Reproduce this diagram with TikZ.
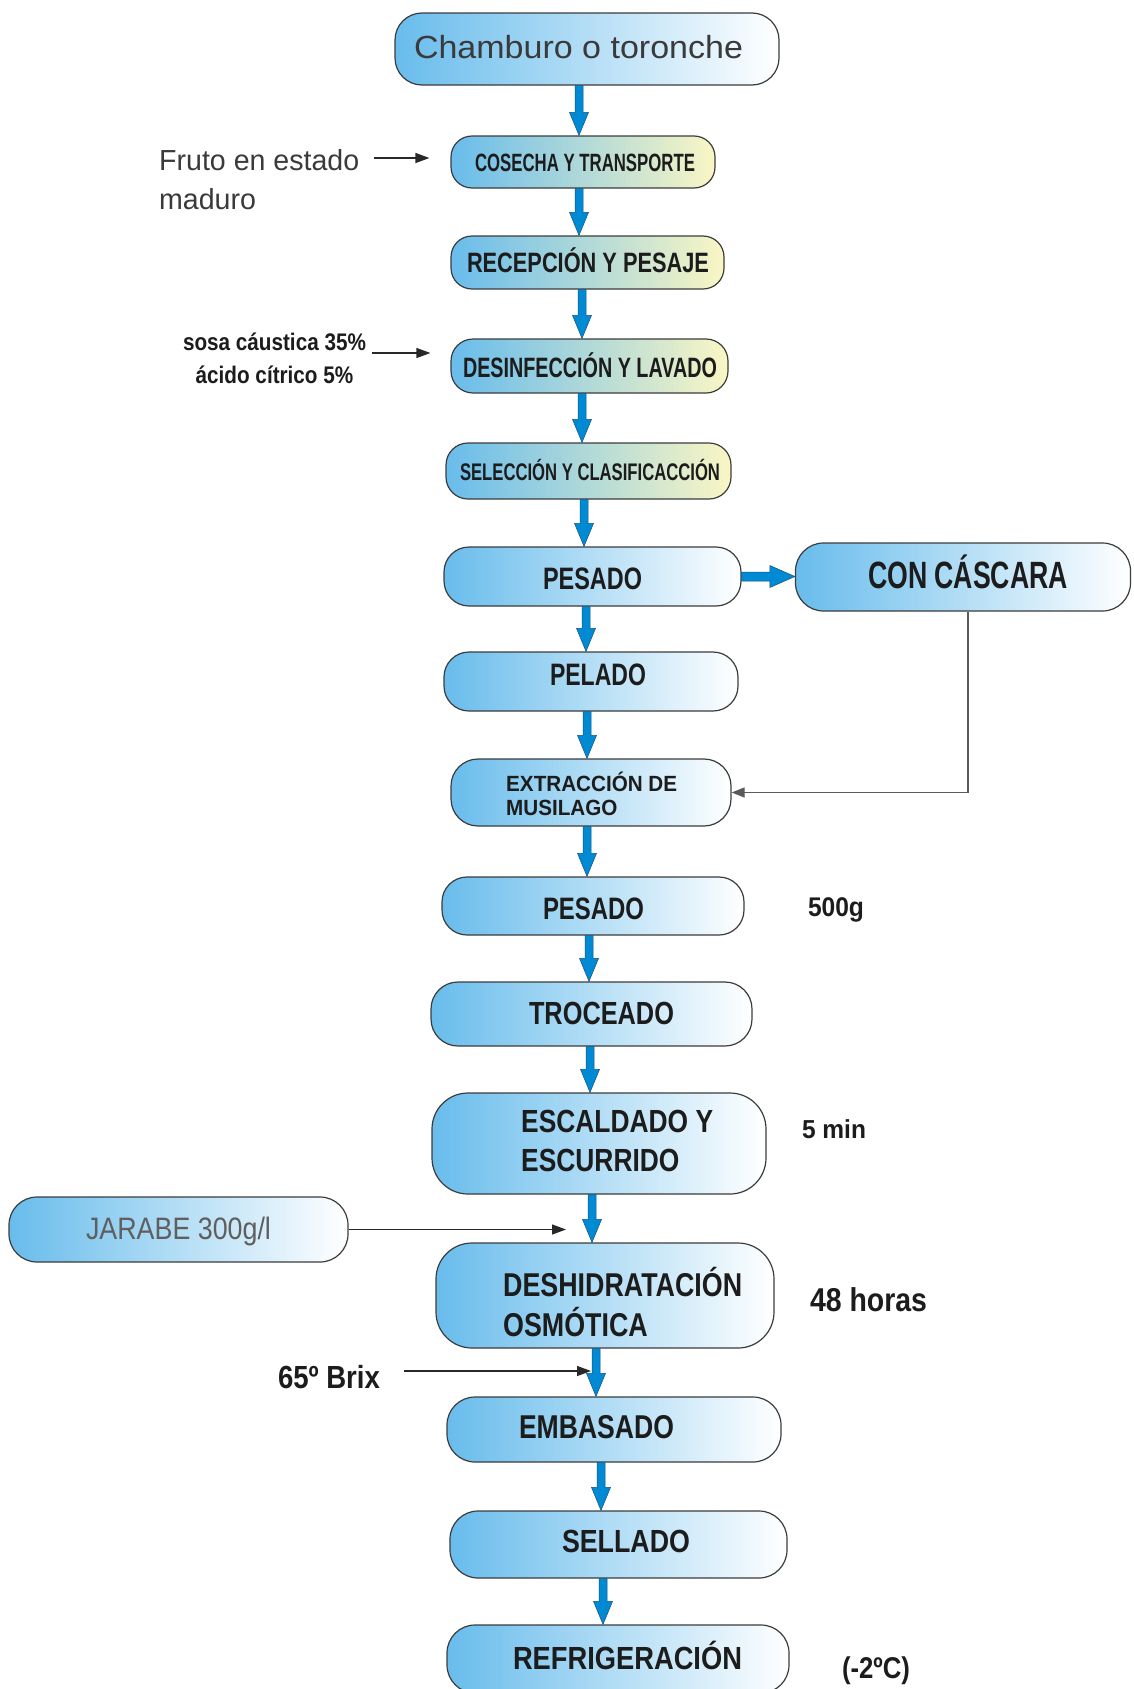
\documentclass[tikz,border=0pt]{standalone}
\usepackage{fontspec}
\setmainfont{Liberation Sans}
\usepackage{graphicx}
\usetikzlibrary{arrows.meta,calc}

\definecolor{boxblue}{RGB}{104,188,236}
\definecolor{paleyellow}{RGB}{250,246,196}
\definecolor{boxedge}{RGB}{60,60,60}
\definecolor{flowblue}{RGB}{0,138,212}
\definecolor{flowedge}{RGB}{25,80,125}
\definecolor{txtdark}{RGB}{28,28,28}
\definecolor{txtgray}{RGB}{58,58,58}
\definecolor{syrupgray}{RGB}{95,95,95}
\definecolor{arrowdark}{RGB}{40,40,40}
\definecolor{linkgray}{RGB}{90,90,90}

% set a label at a given font, then stretch/condense it to a given width
\newsavebox\lblbox
\newcommand\fitlbl[3]{\sbox\lblbox{#2#3}%
  \pgfmathsetmacro\lblscale{#1/\wd\lblbox}%
  \scalebox{\lblscale}[1]{\usebox\lblbox}}
\newcommand\twol[3]{\begin{tabular}[t]{@{}#1@{}}#2\\#3\end{tabular}}

\begin{document}
\begin{tikzpicture}[x=1pt,y=-1pt,
  proc/.style={draw=boxedge, line width=1.2pt, left color=boxblue, right color=white, inner sep=0pt},
  procy/.style={proc, right color=paleyellow},
  lbl/.style={inner sep=0pt, anchor=base, text=txtdark},
  vflow/.style={fill=flowblue, draw=flowedge, line width=0.5pt,
    to path={let \p1=(\tikztostart), \p2=(\tikztotarget) in
      (\x1-4pt,\y1) -- (\x1-4pt,\y2+23pt) -- (\x1-9.5pt,\y2+23pt) -- (\x1,\y2)
      -- (\x1+9.5pt,\y2+23pt) -- (\x1+4pt,\y2+23pt) -- (\x1+4pt,\y1) -- cycle}},
  hflow/.style={fill=flowblue, draw=flowedge, line width=0.5pt,
    to path={let \p1=(\tikztostart), \p2=(\tikztotarget) in
      (\x1,\y1-4.5pt) -- (\x2-25pt,\y1-4.5pt) -- (\x2-25pt,\y1-11pt) -- (\x2,\y1)
      -- (\x2-25pt,\y1+11pt) -- (\x2-25pt,\y1+4.5pt) -- (\x1,\y1+4.5pt) -- cycle}},
  thinarrow/.style={draw=arrowdark, line width=1.3pt, -{Triangle[length=14pt,width=10pt]}},
  linkline/.style={draw=linkgray, line width=1.1pt, -{Triangle[length=13pt,width=10pt]}}
]
\fill[white] (0,0) rectangle (1133,1689);
\useasboundingbox (0,0) rectangle (1133,1689);

% process boxes
\node[proc,  minimum width=384pt, minimum height=72pt,  rounded corners=27pt] (cham) at (587,49) {};
\node[procy, minimum width=264pt, minimum height=52pt,  rounded corners=21pt] (cos)  at (583,162) {};
\node[procy, minimum width=273pt, minimum height=53pt,  rounded corners=21pt] (rec)  at (587.5,262.5) {};
\node[procy, minimum width=277pt, minimum height=54pt,  rounded corners=22pt] (des)  at (589.5,366) {};
\node[procy, minimum width=285pt, minimum height=56pt,  rounded corners=22pt] (sel)  at (588.5,471) {};
\node[proc,  minimum width=297pt, minimum height=59pt,  rounded corners=25pt] (pes1) at (592.5,576.5) {};
\node[proc,  minimum width=335pt, minimum height=68pt,  rounded corners=28pt] (cas)  at (963,577) {};
\node[proc,  minimum width=294pt, minimum height=59pt,  rounded corners=25pt] (pel)  at (591,681.5) {};
\node[proc,  minimum width=280pt, minimum height=67pt,  rounded corners=27pt] (ext)  at (591,792.5) {};
\node[proc,  minimum width=302pt, minimum height=58pt,  rounded corners=25pt] (pes2) at (593,906) {};
\node[proc,  minimum width=321pt, minimum height=64pt,  rounded corners=27pt] (tro)  at (591.5,1014) {};
\node[proc,  minimum width=334pt, minimum height=101pt, rounded corners=36pt] (esc)  at (599,1143.5) {};
\node[proc,  minimum width=339pt, minimum height=65pt,  rounded corners=28pt] (jar)  at (178.5,1229.5) {};
\node[proc,  minimum width=338pt, minimum height=105pt, rounded corners=36pt] (desh) at (605,1295.5) {};
\node[proc,  minimum width=334pt, minimum height=65pt,  rounded corners=28pt] (emb)  at (614,1429.5) {};
\node[proc,  minimum width=337pt, minimum height=67pt,  rounded corners=28pt] (sell) at (618.5,1544.5) {};
\node[proc,  minimum width=342pt, minimum height=68pt,  rounded corners=28pt] (ref)  at (618,1659) {};

% box texts
\node[lbl, text=txtgray] (cham-t) at (578.5,58) {\fitlbl{329}{\fontsize{32}{38}\selectfont}{Chamburo o toronche}};
\node[lbl] (cos-t)  at (585,171)   {\fitlbl{220}{\fontsize{25}{30}\selectfont\bfseries}{COSECHA Y TRANSPORTE}};
\node[lbl] (rec-t)  at (588,272)   {\fitlbl{242}{\fontsize{28}{32}\selectfont\bfseries}{RECEPCIÓN Y PESAJE}};
\node[lbl] (des-t)  at (590,377)   {\fitlbl{254}{\fontsize{28}{32}\selectfont\bfseries}{DESINFECCIÓN Y LAVADO}};
\node[lbl] (sel-t)  at (590,480.5) {\fitlbl{260}{\fontsize{24}{28}\selectfont\bfseries}{SELECCIÓN Y CLASIFICACCIÓN}};
\node[lbl] (pes1-t) at (592.5,589) {\fitlbl{99}{\fontsize{31}{36}\selectfont\bfseries}{PESADO}};
\node[lbl] (cas-t)  at (968,588.5) {\fitlbl{200}{\fontsize{38}{44}\selectfont\bfseries}{CON CÁSCARA}};
\node[lbl] (pel-t)  at (598,685)   {\fitlbl{96}{\fontsize{31}{36}\selectfont\bfseries}{PELADO}};
\node[lbl, anchor=base west] (ext-t) at (506,791)
  {\fitlbl{171}{\fontsize{22}{24}\selectfont\bfseries}{\twol{l}{EXTRACCIÓN DE}{MUSILAGO}}};
\node[lbl] (pes2-t) at (593.5,919) {\fitlbl{101}{\fontsize{31}{36}\selectfont\bfseries}{PESADO}};
\node[lbl] (tro-t)  at (601.5,1024.5) {\fitlbl{145}{\fontsize{32}{36}\selectfont\bfseries}{TROCEADO}};
\node[lbl, anchor=base west] (esc-t) at (521,1132.5)
  {\fitlbl{192}{\fontsize{32}{39}\selectfont\bfseries}{\twol{l}{ESCALDADO Y}{ESCURRIDO}}};
\node[lbl, text=syrupgray] (jar-t) at (178.5,1239) {\fitlbl{185}{\fontsize{31}{36}\selectfont}{JARABE 300g/l}};
\node[lbl, anchor=base west] (desh-t) at (503,1296)
  {\fitlbl{239}{\fontsize{33}{39}\selectfont\bfseries}{\twol{l}{DESHIDRATACIÓN}{OSMÓTICA}}};
\node[lbl] (emb-t)  at (596.5,1438)  {\fitlbl{155}{\fontsize{33}{38}\selectfont\bfseries}{EMBASADO}};
\node[lbl] (sell-t) at (626,1552.5)  {\fitlbl{128}{\fontsize{32}{38}\selectfont\bfseries}{SELLADO}};
\node[lbl] (ref-t)  at (627.5,1669.5) {\fitlbl{229}{\fontsize{32}{38}\selectfont\bfseries}{REFRIGERACIÓN}};

% side notes
\node[lbl] (n500)  at (836,916.7)  {\fitlbl{56}{\fontsize{27}{32}\selectfont\bfseries}{500g}};
\node[lbl] (n5min) at (834,1138)   {\fitlbl{64}{\fontsize{26}{30}\selectfont\bfseries}{5 min}};
\node[lbl] (n48)   at (868.5,1311) {\fitlbl{117}{\fontsize{33}{38}\selectfont\bfseries}{48 horas}};
\node[lbl] (brix)  at (329,1388.5) {\fitlbl{102}{\fontsize{32}{38}\selectfont\bfseries}{65º Brix}};
\node[lbl] (temp)  at (876,1678)   {\fitlbl{68}{\fontsize{30}{36}\selectfont\bfseries}{(-2ºC)}};
\node[lbl, anchor=base west, text=txtgray] (fruto) at (159,170)
  {\fitlbl{200}{\fontsize{29}{39}\selectfont}{\twol{l}{Fruto en estado}{maduro}}};
\node[lbl] (sosa) at (274.5,350.6)
  {\fitlbl{183}{\fontsize{24}{33}\selectfont\bfseries}{\twol{c}{sosa cáustica 35\%}{ácido cítrico 5\%}}};

% main flow
\draw[vflow] ([xshift=-8pt]cham.south)  to (cos.north);
\draw[vflow] ([xshift=-4pt]cos.south)   to (rec.north);
\draw[vflow] ([xshift=-5.5pt]rec.south) to (des.north);
\draw[vflow] ([xshift=-7.5pt]des.south) to (sel.north);
\draw[vflow] ([xshift=-4.5pt]sel.south) to (pes1.north);
\draw[vflow] ([xshift=-6.5pt]pes1.south) to (pel.north);
\draw[vflow] ([xshift=-4pt]pel.south)   to (ext.north);
\draw[vflow] ([xshift=-4pt]ext.south)   to (pes2.north);
\draw[vflow] ([xshift=-4pt]pes2.south)  to (tro.north);
\draw[vflow] ([xshift=-1.5pt]tro.south) to (esc.north);
\draw[vflow] ([xshift=-7pt]esc.south)   to (desh.north);
\draw[vflow] ([xshift=-9pt]desh.south)  to (emb.north);
\draw[vflow] ([xshift=-13pt]emb.south)  to (sell.north);
\draw[vflow] ([xshift=-15.5pt]sell.south) to (ref.north);
\draw[hflow] (pes1.east) to (cas.west);

% peel branch back to mucilage extraction
\draw[linkline] ([xshift=5pt]cas.south) |- (ext.east);

% inputs
\coordinate (fr-a) at (374,158);
\coordinate (fr-b) at ([xshift=-21pt]cos.west);
\draw[thinarrow] (fr-a) -- (fr-a -| fr-b);
\coordinate (so-a) at (372,353);
\coordinate (so-b) at ([xshift=-20pt]des.west);
\draw[thinarrow] (so-a) -- (so-a -| so-b);
\coordinate (ja-b) at ([xshift=-39pt]desh.north);
\draw[thinarrow] (jar.east) -- (jar.east -| ja-b);
\coordinate (bx-a) at (404,1371);
\coordinate (bx-b) at ([xshift=-14pt]desh.south);
\draw[thinarrow] (bx-a) -- (bx-a -| bx-b);
\end{tikzpicture}
\end{document}
